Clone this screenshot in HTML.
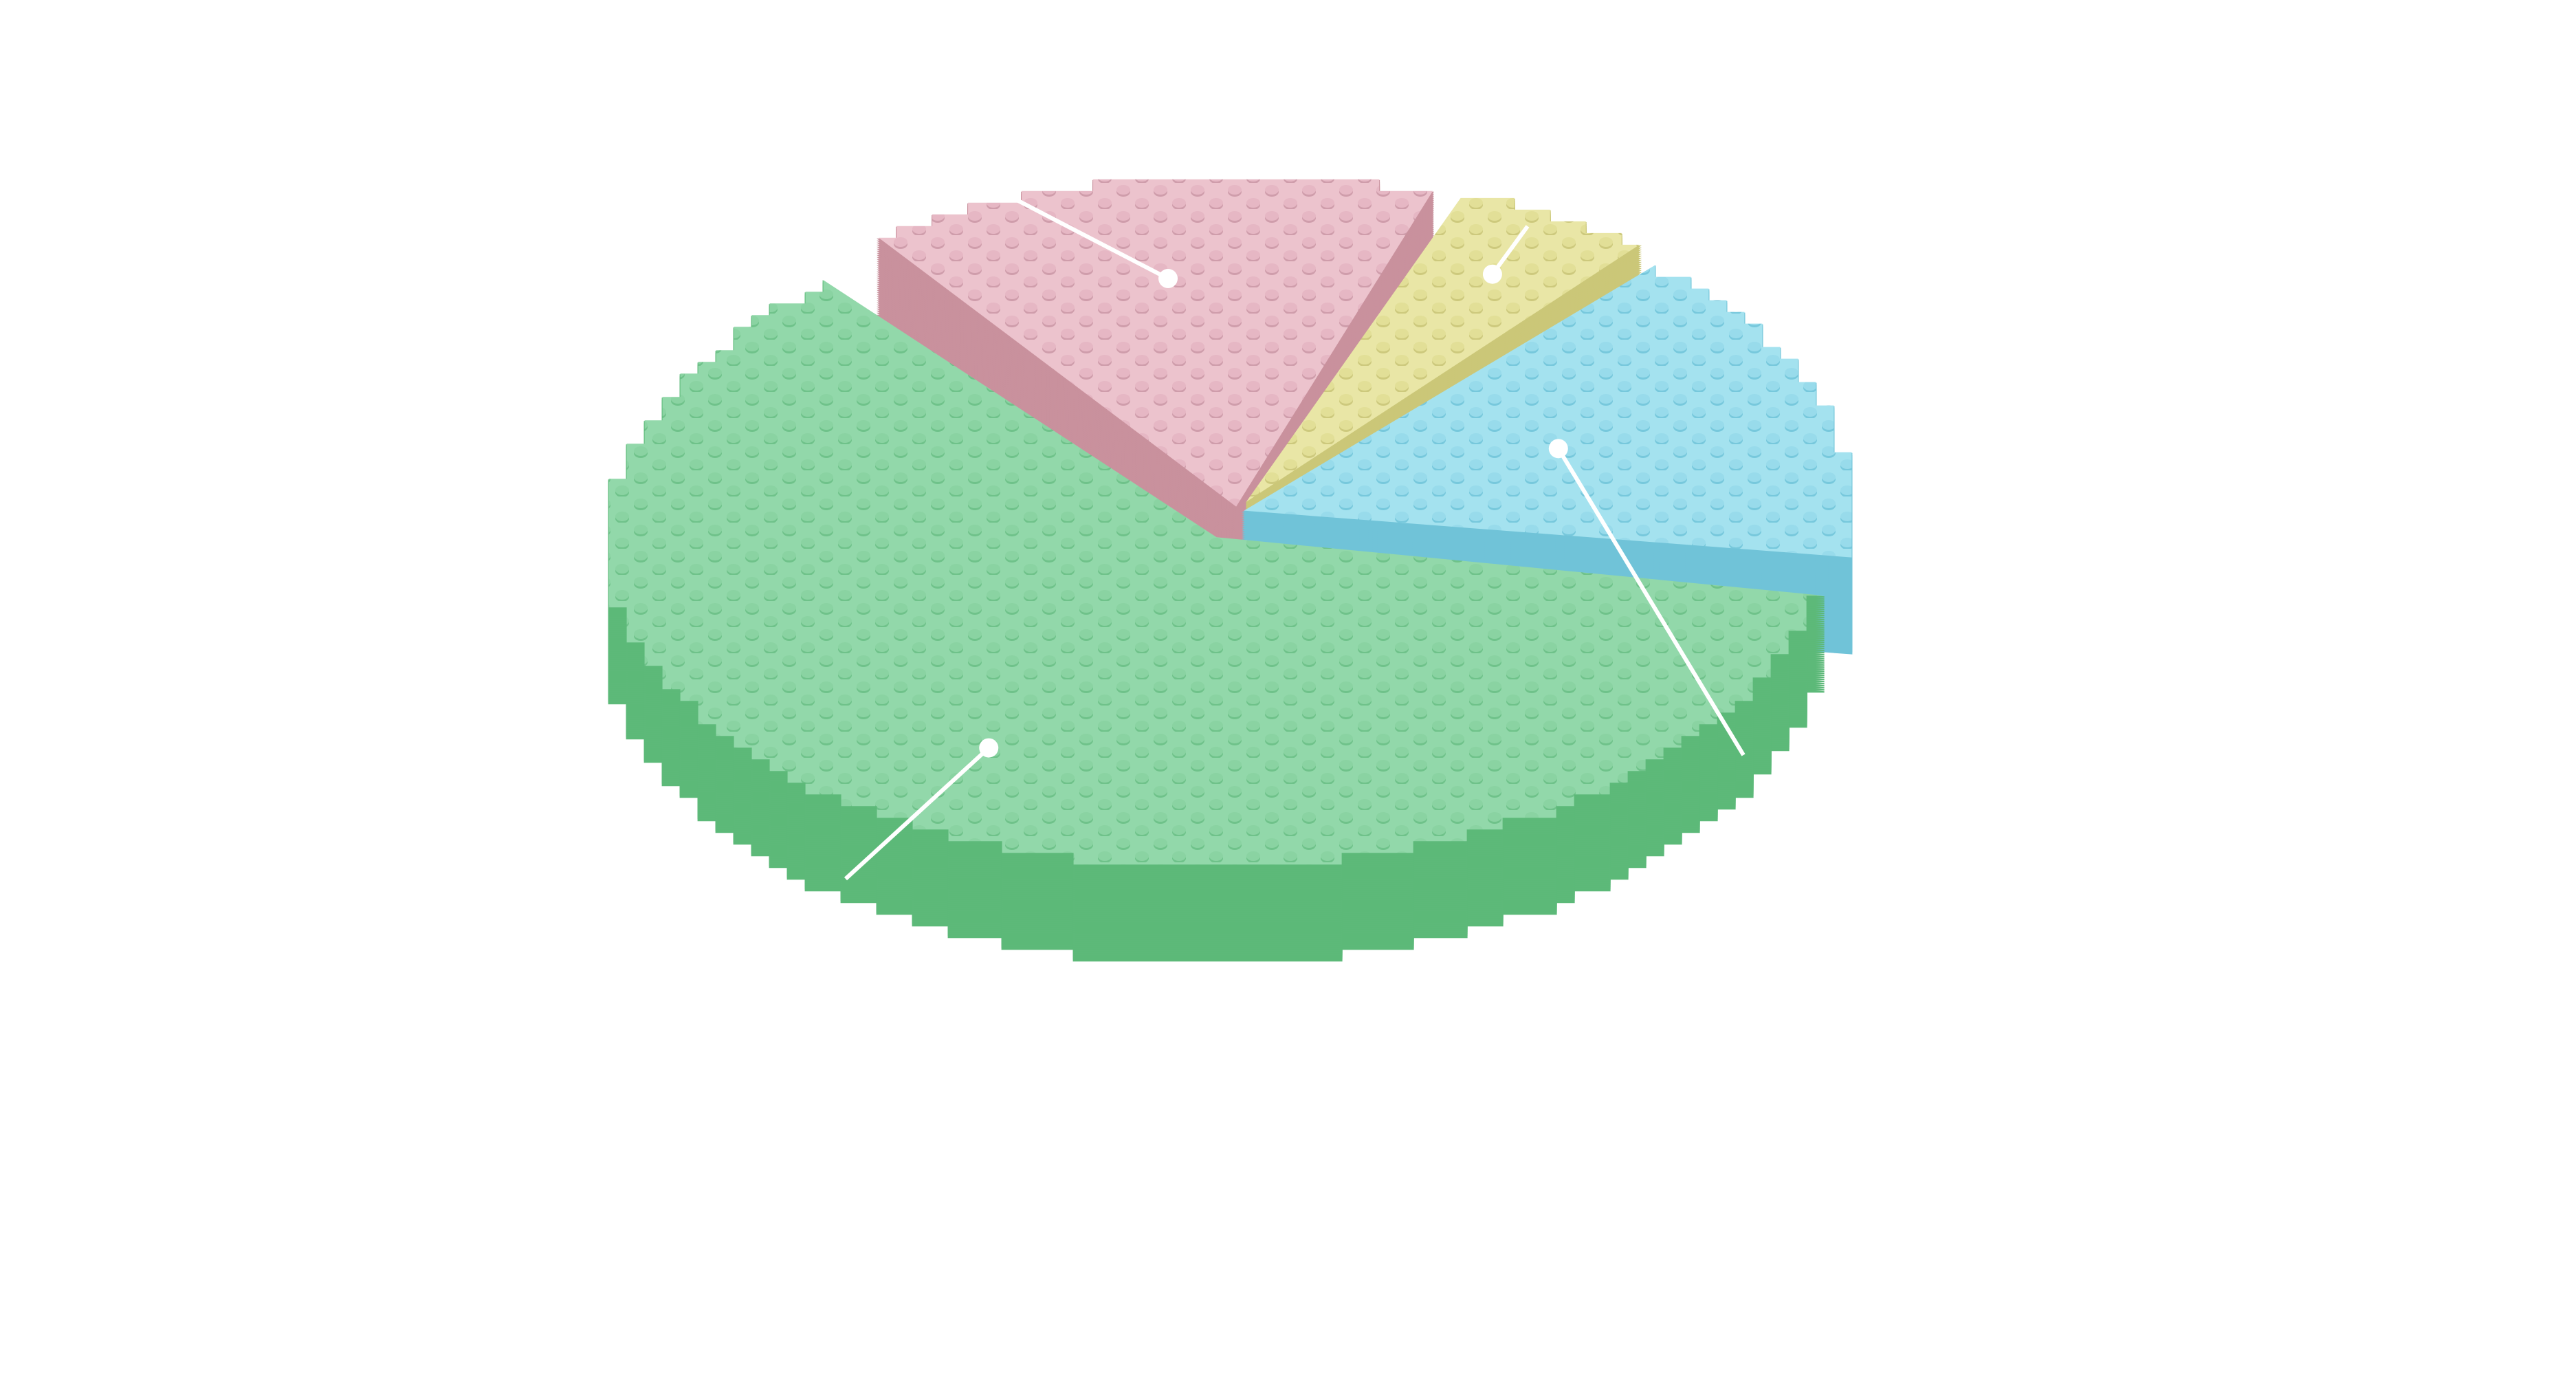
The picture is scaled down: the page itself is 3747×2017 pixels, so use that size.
<!DOCTYPE html>
<html><head><meta charset="utf-8"><style>
html,body{margin:0;padding:0;background:#fff;width:3747px;height:2017px;overflow:hidden}
svg{display:block}
</style></head><body>
<svg id="chart" width="3747" height="2017" viewBox="0 0 3747 2017" xmlns="http://www.w3.org/2000/svg">
<defs>
<pattern id="studs-green" width="54" height="38" patternUnits="userSpaceOnUse">
<rect width="54" height="38" fill="#92d8aa"/>
<ellipse cx="14" cy="13" rx="10" ry="7" fill="#6fc28a"/><ellipse cx="14" cy="10" rx="10" ry="7" fill="#8ad3a2"/>
<ellipse cx="41" cy="32" rx="10" ry="7" fill="#6fc28a"/><ellipse cx="41" cy="29" rx="10" ry="7" fill="#8ad3a2"/>
</pattern>
<pattern id="studs-pink" width="54" height="38" patternUnits="userSpaceOnUse">
<rect width="54" height="38" fill="#ecc3cd"/>
<ellipse cx="14" cy="13" rx="10" ry="7" fill="#cf9dab"/><ellipse cx="14" cy="10" rx="10" ry="7" fill="#e6b7c4"/>
<ellipse cx="41" cy="32" rx="10" ry="7" fill="#cf9dab"/><ellipse cx="41" cy="29" rx="10" ry="7" fill="#e6b7c4"/>
</pattern>
<pattern id="studs-yellow" width="54" height="38" patternUnits="userSpaceOnUse">
<rect width="54" height="38" fill="#e9e6a6"/>
<ellipse cx="14" cy="13" rx="10" ry="7" fill="#cdc97d"/><ellipse cx="14" cy="10" rx="10" ry="7" fill="#e2df97"/>
<ellipse cx="41" cy="32" rx="10" ry="7" fill="#cdc97d"/><ellipse cx="41" cy="29" rx="10" ry="7" fill="#e2df97"/>
</pattern>
<pattern id="studs-blue" width="54" height="38" patternUnits="userSpaceOnUse">
<rect width="54" height="38" fill="#a4e2ef"/>
<ellipse cx="14" cy="13" rx="10" ry="7" fill="#77c8dc"/><ellipse cx="14" cy="10" rx="10" ry="7" fill="#98dbeb"/>
<ellipse cx="41" cy="32" rx="10" ry="7" fill="#77c8dc"/><ellipse cx="41" cy="29" rx="10" ry="7" fill="#98dbeb"/>
</pattern>
</defs>
<g id="slices"></g>
<g id="labels"></g>
</svg>
<script>
const categories = ["green", "pink", "yellow", "blue"];
const values = [62, 16, 6, 16];
const topColors = ["url(#studs-green)", "url(#studs-pink)", "url(#studs-yellow)", "url(#studs-blue)"];
const sideColors = ["#5db979", "#c9919d", "#cbc778", "#70c3d8"];

const NS = "http://www.w3.org/2000/svg";
const cx = 1800, cy = 745, rx = 885, ry = 480, thick = 140, gapDeg = 2.5;
const explodes = [60, 12, 25, 10];
const total = values.reduce((a, b) => a + b, 0);
const order = [1, 2, 3, 0];
let start = -128;
const geo = [];
order.forEach(i => {
  const sweep = values[i] / total * 360;
  geo[i] = { a0: start + gapDeg / 2, a1: start + sweep - gapDeg / 2 };
  start += sweep;
});
const GX = 26, GY = 17;
function slicePts(g, dx, dy) {
  const pts = [[cx + dx, cy + dy]];
  const n = 160;
  let prev = null;
  for (let k = 0; k <= n; k++) {
    const a = (g.a0 + (g.a1 - g.a0) * k / n) * Math.PI / 180;
    const x = cx + dx + Math.round(rx * Math.cos(a) / GX) * GX;
    const y = cy + dy + Math.round(ry * Math.sin(a) / GY) * GY;
    if (prev && (prev[0] !== x || prev[1] !== y)) {
      pts.push([x, prev[1]]);
    }
    pts.push([x, y]);
    prev = [x, y];
  }
  return pts;
}
function pathOf(pts, oy) {
  return "M" + pts.map(p => p[0].toFixed(1) + "," + (p[1] + oy).toFixed(1)).join("L") + "Z";
}
const sg = document.getElementById("slices");
const lg = document.getElementById("labels");
const drawOrder = [1, 2, 3, 0];
const anchors = [];
drawOrder.forEach(i => {
  const g = geo[i];
  const mid = (g.a0 + g.a1) / 2 * Math.PI / 180;
  const dx = explodes[i] * Math.cos(mid), dy = explodes[i] * 0.7 * Math.sin(mid);
  const pts = slicePts(g, dx, dy);
  const grp = document.createElementNS(NS, "g");
  
  
  for (let o = thick; o > 0; o -= 3) {
    const s = document.createElementNS(NS, "path");
    s.setAttribute("d", pathOf(pts, o));
    s.setAttribute("fill", sideColors[i]);
    s.setAttribute("stroke", sideColors[i]);
    s.setAttribute("stroke-width", "2");
    grp.appendChild(s);
  }
  const t = document.createElementNS(NS, "path");
  
  
  t.setAttribute("d", pathOf(pts, 0));
  t.setAttribute("fill", topColors[i]);
  grp.appendChild(t);
  sg.appendChild(grp);
  anchors[i] = { mid: mid, dx: dx, dy: dy };
});
const dotFrac = [0.74, 0.7, 0.8, 0.55];
const lineEnd = [[1230, 1278], [1460, 281], [2222, 329], [2536, 1098]];
categories.forEach((c, i) => {
  const a = anchors[i];
  const px = cx + a.dx + dotFrac[i] * rx * Math.cos(a.mid);
  const py = cy + a.dy + dotFrac[i] * ry * Math.sin(a.mid);
  const l = document.createElementNS(NS, "line");
  
  
  l.setAttribute("x1", px); l.setAttribute("y1", py);
  l.setAttribute("x2", lineEnd[i][0]); l.setAttribute("y2", lineEnd[i][1]);
  l.setAttribute("stroke", "#fff"); l.setAttribute("stroke-width", "6");
  lg.appendChild(l);
  const d = document.createElementNS(NS, "circle");
  
  
  d.setAttribute("cx", px); d.setAttribute("cy", py); d.setAttribute("r", "14");
  d.setAttribute("fill", "#fff");
  lg.appendChild(d);
});
</script>
</body></html>
